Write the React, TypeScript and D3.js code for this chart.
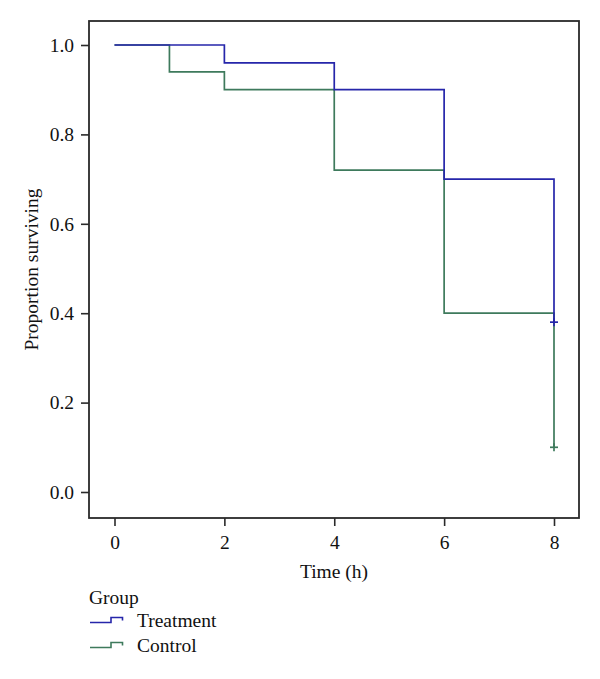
import React, { useEffect, useRef } from "react";
import * as d3 from "d3";

// survival steps: [time, proportion]
const treatmentSteps: [number, number][] = [[0, 1.0], [2, 0.96], [4, 0.9], [6, 0.7], [8, 0.38]];
const controlSteps: [number, number][] = [[0, 1.0], [1, 0.94], [2, 0.9], [4, 0.72], [6, 0.4], [8, 0.1]];
const censorTimes = [8, 8];
const censorValues = [0.38, 0.1];
const xTicks = [0, 2, 4, 6, 8];
const yTicks = [0.0, 0.2, 0.4, 0.6, 0.8, 1.0];
const groups = ["Treatment", "Control"];
const colors = ["#2626aa", "#3e7a5c"];

const App = () => {
  const ref = useRef<SVGSVGElement>(null);

  useEffect(() => {
    const svg = d3.select(ref.current);
    svg.selectAll("*").remove();

    const W = 600, H = 679;
    const box = { left: 89, top: 21, right: 579, bottom: 518 };
    const font = "'Liberation Serif', 'Times New Roman', serif";
    const fs = "19.5px";

    const x = d3.scaleLinear().domain([0, 8]).range([114.5, 554]);
    const y = d3.scaleLinear().domain([0, 1]).range([492, 45]);

    svg.attr("width", W).attr("height", H);

    // frame
    svg.append("rect")
      .attr("x", box.left).attr("y", box.top)
      .attr("width", box.right - box.left).attr("height", box.bottom - box.top)
      .attr("fill", "none").attr("stroke", "#2a2a2a").attr("stroke-width", 1.8);

    // x axis
    svg.append("g")
      .attr("transform", `translate(0,${box.bottom})`)
      .call(d3.axisBottom(x).tickValues(xTicks).tickSize(8).tickPadding(9).tickFormat(d3.format("d")))
      .call(g => g.select(".domain").remove())
      .call(g => g.selectAll("line").attr("stroke", "#2a2a2a").attr("stroke-width", 1.6))
      .call(g => g.selectAll("text").attr("fill", "#111").style("font-family", font).style("font-size", fs));

    // y axis
    svg.append("g")
      .attr("transform", `translate(${box.left},0)`)
      .call(d3.axisLeft(y).tickValues(yTicks).tickSize(8).tickPadding(7).tickFormat(d3.format(".1f")))
      .call(g => g.select(".domain").remove())
      .call(g => g.selectAll("line").attr("stroke", "#2a2a2a").attr("stroke-width", 1.6))
      .call(g => g.selectAll("text").attr("fill", "#111").style("font-family", font).style("font-size", fs));

    // axis titles
    svg.append("text")
      .attr("transform", `translate(38,${(box.top + box.bottom) / 2}) rotate(-90)`)
      .attr("text-anchor", "middle")
      .style("font-family", font).style("font-size", fs).attr("fill", "#111")
      .text("Proportion surviving");

    svg.append("text")
      .attr("x", (box.left + box.right) / 2).attr("y", 578)
      .attr("text-anchor", "middle")
      .style("font-family", font).style("font-size", fs).attr("fill", "#111")
      .text("Time (h)");

    const line = d3.line<[number, number]>()
      .x(d => x(d[0])).y(d => y(d[1]))
      .curve(d3.curveStepAfter);

    // control drawn first so treatment sits on top
    [controlSteps, treatmentSteps].forEach((steps, i) => {
      const color = i === 0 ? colors[1] : colors[0];
      svg.append("path")
        .datum(steps)
        .attr("d", line)
        .attr("fill", "none")
        .attr("stroke", color)
        .attr("stroke-width", 1.7);
    });

    // censor marks
    censorTimes.forEach((t, i) => {
      const cx = x(t), cy = y(censorValues[i]);
      const g = svg.append("g").attr("stroke", colors[i]).attr("stroke-width", 1.7);
      g.append("line").attr("x1", cx - 4).attr("x2", cx + 4).attr("y1", cy).attr("y2", cy);
      g.append("line").attr("x1", cx).attr("x2", cx).attr("y1", cy - 4).attr("y2", cy + 4);
    });

    // legend
    svg.append("text")
      .attr("x", 89).attr("y", 604)
      .style("font-family", font).style("font-size", fs).attr("fill", "#111")
      .text("Group");

    groups.forEach((name, i) => {
      const base = 622.5 + i * 25;
      svg.append("path")
        .attr("d", `M90,${base}H111V${base - 5}H122.5V${base - 2}`)
        .attr("fill", "none").attr("stroke", colors[i]).attr("stroke-width", 1.6);
      svg.append("text")
        .attr("x", 137).attr("y", base + 4)
        .style("font-family", font).style("font-size", fs).attr("fill", "#111")
        .text(name);
    });
  }, []);

  return <svg ref={ref} style={{ position: "absolute", left: 0, top: 0 }} />;
};

export default App;
